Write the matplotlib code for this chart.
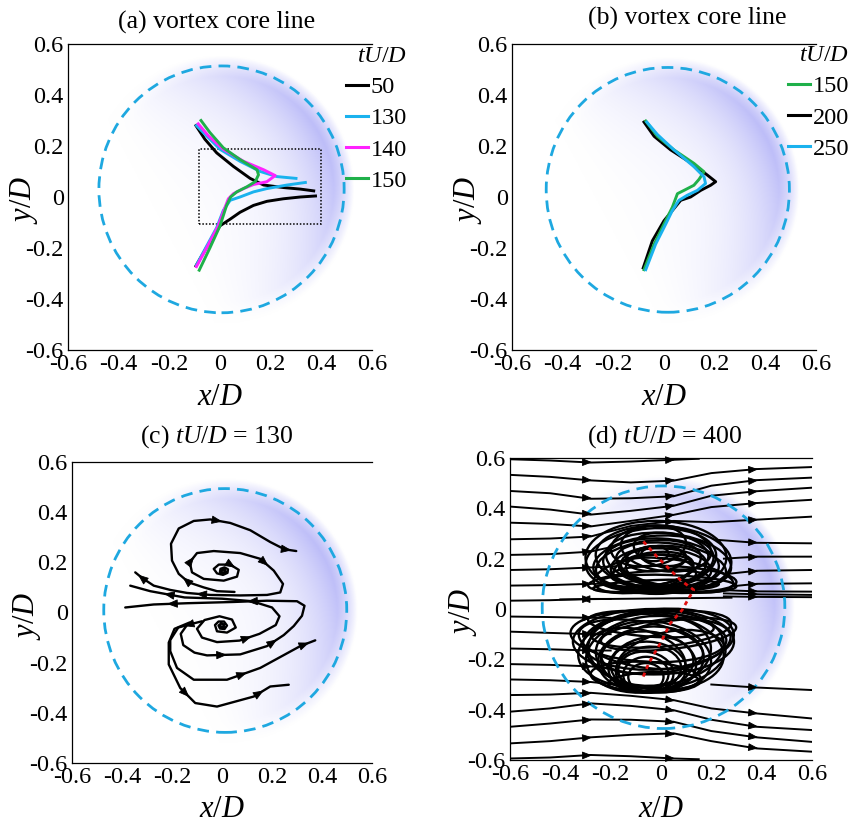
import numpy as np
import matplotlib
matplotlib.use('Agg')
import matplotlib.pyplot as plt
from matplotlib.patches import Circle, Rectangle, Ellipse
from matplotlib.lines import Line2D

plt.rcParams['font.family'] = 'Liberation Serif'
plt.rcParams['mathtext.fontset'] = 'custom'
plt.rcParams['mathtext.rm'] = 'Liberation Serif'
plt.rcParams['mathtext.it'] = 'Liberation Serif:italic'
plt.rcParams['axes.unicode_minus'] = False

# ---- axis ticks ----
ticks = [-0.6, -0.4, -0.2, 0, 0.2, 0.4, 0.6]
tick_labels = ['-0.6', '-0.4', '-0.2', '0', '0.2', '0.4', '0.6']

# ---- (a) vortex core lines, tU/D = 50, 130, 140, 150 ----
a_times = ['50', '130', '140', '150']
a_core_50 = [(-0.095, 0.28), (-0.06, 0.227), (-0.013, 0.173), (0.053, 0.12), (0.119, 0.073),
             (0.172, 0.047), (0.251, 0.037), (0.317, 0.031), (0.37, 0.024), (np.nan, np.nan),
             (0.377, 0.004), (0.317, 0.0), (0.25, -0.007), (0.185, -0.017), (0.132, -0.033),
             (0.079, -0.06), (0.04, -0.087), (0.0, -0.113), (-0.03, -0.16), (-0.06, -0.21),
             (-0.095, -0.27)]
a_core_130 = [(-0.093, 0.28), (-0.053, 0.24), (0.0, 0.187), (0.079, 0.14), (0.159, 0.1),
              (0.225, 0.08), (0.3, 0.073), (np.nan, np.nan),
              (0.337, 0.057), (0.265, 0.047), (0.185, 0.033), (0.132, 0.02), (0.079, 0.0),
              (0.04, -0.013), (0.013, -0.053), (-0.013, -0.12), (-0.053, -0.193), (-0.093, -0.267)]
a_core_140 = [(-0.086, 0.287), (-0.046, 0.24), (0.013, 0.187), (0.093, 0.14), (0.172, 0.107),
              (0.218, 0.084), (0.185, 0.06), (0.132, 0.049), (0.093, 0.033), (0.053, 0.013),
              (0.033, -0.007), (0.02, -0.04), (-0.007, -0.113), (-0.053, -0.2), (-0.093, -0.273)]
a_core_150 = [(-0.075, 0.3), (-0.04, 0.253), (0.013, 0.193), (0.079, 0.147), (0.146, 0.107),
              (0.152, 0.087), (0.139, 0.06), (0.106, 0.04), (0.066, 0.02), (0.042, 0.0),
              (0.026, -0.033), (0.0, -0.113), (-0.04, -0.2), (-0.082, -0.287)]
a_box = (-0.082, -0.107, 0.397, 0.189)   # x0, y0, x1, y1 of the dotted window

# ---- (b) vortex core lines, tU/D = 150, 200, 250 ----
b_times = ['150', '200', '250']
b_core_150 = [(-0.072, 0.298), (-0.026, 0.238), (0.039, 0.185), (0.118, 0.132), (0.158, 0.099),
              (0.138, 0.069), (0.118, 0.046), (0.079, 0.026), (0.053, 0.013), (0.033, -0.04),
              (0.0, -0.106), (-0.039, -0.185), (-0.079, -0.285)]
b_core_200 = [(-0.079, 0.294), (-0.039, 0.238), (0.026, 0.185), (0.118, 0.126), (0.171, 0.086),
              (0.204, 0.06), (0.184, 0.046), (0.145, 0.026), (0.105, 0.0), (0.066, -0.013),
              (0.033, -0.053), (0.0, -0.093), (-0.046, -0.172), (-0.082, -0.278)]
b_core_250 = [(-0.068, 0.294), (-0.026, 0.245), (0.039, 0.185), (0.118, 0.119), (0.158, 0.079),
              (0.164, 0.053), (0.132, 0.026), (0.092, 0.007), (0.059, -0.013), (0.033, -0.053),
              (0.007, -0.106), (-0.033, -0.185), (-0.072, -0.285)]

# ---- (c) streamlines at tU/D = 130 ----
c_outer = [(0.05, 0.082), (-0.02, 0.085), (-0.073, 0.1), (-0.133, 0.12), (-0.173, 0.154),
           (-0.2, 0.207), (-0.204, 0.274), (-0.173, 0.335), (-0.113, 0.365), (-0.047, 0.371),
           (0.033, 0.357), (0.113, 0.328), (0.193, 0.281), (0.25, 0.252), (0.297, 0.245)]
c_upper = [(0.0, 0.168), (0.01, 0.172), (0.014, 0.164), (0.004, 0.158), (-0.008, 0.162),
           (-0.006, 0.174), (0.01, 0.18), (0.024, 0.172), (0.022, 0.158), (0.004, 0.15),
           (-0.02, 0.156), (-0.033, 0.174), (-0.013, 0.191),
           (0.033, 0.191), (0.067, 0.17), (0.06, 0.143), (0.007, 0.127), (-0.073, 0.134),
           (-0.12, 0.16), (-0.129, 0.2), (-0.1, 0.237), (-0.033, 0.245), (0.073, 0.237),
           (0.153, 0.214), (0.207, 0.167), (0.244, 0.114), (0.233, 0.08), (0.18, 0.07),
           (0.073, 0.068), (-0.047, 0.07), (-0.14, 0.078), (-0.207, 0.09), (-0.273, 0.107),
           (-0.32, 0.138), (-0.347, 0.16)]
c_lower = [(-0.005, -0.055), (0.006, -0.058), (0.008, -0.048), (-0.004, -0.044), (-0.014, -0.052),
           (-0.008, -0.064), (0.01, -0.066), (0.02, -0.052), (0.008, -0.036), (-0.014, -0.036),
           (-0.028, -0.05), (-0.02, -0.075),
           (0.02, -0.08), (0.055, -0.06), (0.04, -0.028), (-0.01, -0.015), (-0.07, -0.03),
           (-0.1, -0.065), (-0.08, -0.1), (-0.02, -0.118), (0.07, -0.112), (0.15, -0.085),
           (0.215, -0.05), (0.23, -0.015), (0.2, 0.02), (0.12, 0.045), (0.0, 0.055),
           (-0.15, 0.06), (-0.287, 0.085), (-0.367, 0.107)]
c_loop = [(-0.08, -0.035), (-0.14, -0.05), (-0.165, -0.085), (-0.155, -0.13), (-0.11, -0.16),
          (-0.06, -0.171), (0.073, -0.167), (0.18, -0.134), (0.247, -0.09), (0.287, -0.054),
          (0.32, -0.013), (0.33, 0.027), (0.3, 0.045), (0.18, 0.047), (0.047, 0.042),
          (-0.14, 0.037), (-0.273, 0.032), (-0.387, 0.02)]
c_arc1 = [(-0.12, -0.045), (-0.175, -0.06), (-0.207, -0.11), (-0.207, -0.154), (-0.18, -0.221),
          (-0.113, -0.268), (0.02, -0.268), (0.153, -0.221), (0.313, -0.134), (0.373, -0.111)]
c_arc2 = [(-0.13, -0.04), (-0.19, -0.065), (-0.213, -0.12), (-0.213, -0.207), (-0.167, -0.301),
          (-0.107, -0.361), (-0.02, -0.375), (0.127, -0.335), (0.193, -0.295), (0.267, -0.288)]
c_streams = [c_outer, c_upper, c_lower, c_loop, c_arc1, c_arc2]
# segment index of each arrow head, per streamline
c_arrows = [[3, 9, 13], [13, 19, 23, 29, 33], [20, 27], [5, 7, 13, 15], [0, 6, 8], [4, 7]]

# ---- (d) streamlines at tU/D = 400 ----
d_rows = [
    [(-0.6, 0.595), (-0.44, 0.59), (-0.28, 0.582), (-0.12, 0.586), (0.05, 0.593), (0.15, 0.597)],
    [(-0.6, 0.533), (-0.44, 0.525), (-0.28, 0.511), (-0.12, 0.503), (0.05, 0.51), (0.2, 0.54), (0.38, 0.556), (0.6, 0.564)],
    [(-0.6, 0.469), (-0.44, 0.46), (-0.28, 0.438), (-0.12, 0.44), (0.05, 0.448), (0.2, 0.49), (0.38, 0.512), (0.6, 0.522)],
    [(-0.6, 0.407), (-0.44, 0.395), (-0.28, 0.375), (-0.12, 0.39), (0.05, 0.41), (0.2, 0.45), (0.38, 0.468), (0.6, 0.482)],
    [(-0.6, 0.343), (-0.44, 0.338), (-0.28, 0.328), (-0.12, 0.35), (0.05, 0.374), (0.2, 0.405), (0.38, 0.421), (0.6, 0.434)],
    [(-0.6, 0.277), (-0.44, 0.28), (-0.28, 0.288), (-0.12, 0.33), (0.05, 0.35), (0.2, 0.345), (0.38, 0.355), (0.6, 0.367)],
    [(-0.6, 0.215), (-0.44, 0.218), (-0.28, 0.228), (-0.18, 0.25)],
    [(0.22, 0.275), (0.38, 0.263), (0.6, 0.261)],
    [(-0.6, 0.155), (-0.44, 0.158), (-0.28, 0.165), (-0.18, 0.17)],
    [(0.25, 0.2), (0.38, 0.208), (0.6, 0.208)],
    [(-0.6, 0.093), (-0.44, 0.095), (-0.28, 0.1), (-0.18, 0.1)],
    [(0.27, 0.14), (0.38, 0.152), (0.6, 0.155)],
    [(-0.6, 0.033), (-0.44, 0.035), (-0.28, 0.04), (-0.2, 0.04)],
    [(0.28, 0.09), (0.38, 0.1), (0.6, 0.102)],
    [(-0.6, -0.03), (-0.44, -0.032), (-0.28, -0.035), (-0.2, -0.035)],
    [(0.25, 0.075), (0.38, 0.07), (0.6, 0.069)],
    [(-0.6, -0.09), (-0.44, -0.095), (-0.28, -0.1), (-0.2, -0.1)],
    [(0.25, 0.062), (0.4, 0.058), (0.6, 0.056)],
    [(-0.6, -0.157), (-0.44, -0.16), (-0.28, -0.165), (-0.2, -0.165)],
    [(0.25, 0.05), (0.4, 0.048), (0.6, 0.047)],
    [(-0.6, -0.219), (-0.44, -0.222), (-0.28, -0.228), (-0.2, -0.235)],
    [(-0.6, -0.28), (-0.44, -0.283), (-0.28, -0.29), (-0.18, -0.3)],
    [(0.2, -0.3), (0.38, -0.312), (0.6, -0.322)],
    [(-0.6, -0.342), (-0.44, -0.34), (-0.28, -0.333), (-0.12, -0.345), (0.05, -0.362), (0.2, -0.395), (0.38, -0.415), (0.6, -0.435)],
    [(-0.6, -0.408), (-0.44, -0.395), (-0.28, -0.375), (-0.12, -0.385), (0.05, -0.402), (0.2, -0.44), (0.38, -0.468), (0.6, -0.481)],
    [(-0.6, -0.468), (-0.44, -0.455), (-0.28, -0.439), (-0.12, -0.44), (0.05, -0.448), (0.2, -0.485), (0.38, -0.51), (0.6, -0.528)],
    [(-0.6, -0.534), (-0.44, -0.525), (-0.28, -0.51), (-0.12, -0.5), (0.05, -0.494), (0.2, -0.525), (0.38, -0.554), (0.6, -0.567)],
    [(-0.6, -0.594), (-0.44, -0.59), (-0.28, -0.58), (-0.12, -0.585), (0.05, -0.594), (0.15, -0.597)],
]
d_arrow_x = [-0.28, 0.05, 0.38]
d_back = [(0.28, 0.045), (0.0, 0.042), (-0.2, 0.04), (-0.4, 0.038)]
# closed streamline loops: centre x, centre y, width, height, tilt in degrees
d_loops_upper = [(-0.02, 0.205, 0.56, 0.29, 0), (0.01, 0.2, 0.54, 0.26, -4), (-0.04, 0.195, 0.52, 0.25, 5),
                 (0.03, 0.19, 0.5, 0.22, -7), (-0.03, 0.185, 0.48, 0.21, 6), (0.0, 0.18, 0.46, 0.2, -3),
                 (-0.05, 0.18, 0.42, 0.18, 8), (0.04, 0.175, 0.44, 0.17, -8), (-0.01, 0.17, 0.38, 0.16, 4),
                 (0.02, 0.165, 0.36, 0.15, -5), (-0.03, 0.16, 0.32, 0.13, 7), (0.0, 0.155, 0.28, 0.12, -6),
                 (-0.02, 0.2, 0.24, 0.1, 3), (0.01, 0.21, 0.18, 0.08, -4), (-0.03, 0.22, 0.12, 0.06, 0),
                 (0.05, 0.12, 0.5, 0.1, -3), (-0.05, 0.11, 0.48, 0.08, 4), (0.03, 0.1, 0.54, 0.07, -2),
                 (-0.02, 0.09, 0.5, 0.05, 2), (0.06, 0.135, 0.46, 0.12, -9), (-0.07, 0.14, 0.4, 0.14, 10),
                 (0.02, 0.24, 0.36, 0.18, -6), (-0.05, 0.25, 0.3, 0.16, 7), (0.04, 0.23, 0.3, 0.14, -10)]
d_loops_lower = [(-0.03, -0.13, 0.64, 0.26, 0), (-0.01, -0.12, 0.6, 0.24, 4), (-0.05, -0.11, 0.62, 0.2, -3),
                 (0.0, -0.08, 0.56, 0.14, 5), (-0.04, -0.06, 0.5, 0.1, -4), (-0.04, -0.16, 0.58, 0.3, 6),
                 (-0.02, -0.17, 0.54, 0.3, -5), (-0.05, -0.18, 0.5, 0.3, 8), (-0.03, -0.19, 0.46, 0.28, -7),
                 (-0.04, -0.2, 0.42, 0.26, 4), (-0.05, -0.21, 0.38, 0.24, -6), (-0.04, -0.22, 0.34, 0.22, 9),
                 (-0.05, -0.23, 0.3, 0.2, -4), (-0.05, -0.24, 0.26, 0.18, 6), (-0.06, -0.25, 0.22, 0.16, -8),
                 (-0.06, -0.26, 0.18, 0.14, 3), (-0.06, -0.27, 0.14, 0.11, 0), (0.02, -0.15, 0.52, 0.2, 10),
                 (-0.08, -0.14, 0.5, 0.18, -10), (0.03, -0.1, 0.54, 0.12, 6), (-0.06, -0.27, 0.44, 0.12, -3),
                 (-0.03, -0.29, 0.36, 0.08, 2), (0.04, -0.2, 0.44, 0.22, 12), (-0.1, -0.19, 0.4, 0.22, -12)]
d_core = [(-0.07, 0.268), (-0.016, 0.208), (0.077, 0.115), (0.13, 0.076), (0.103, 0.03),
          (0.084, -0.004), (0.037, -0.057), (-0.003, -0.137), (-0.049, -0.216), (-0.076, -0.282)]

# sphere outline per panel: centre x, centre y, radius
spheres = [(0.006, 0.03, 0.484), (0.015, 0.028, 0.48), (0.013, 0.008, 0.486), (0.01, 0.007, 0.482)]

W, H = 860, 825
fig = plt.figure(figsize=(W / 100, H / 100), dpi=100)


def axes_px(l, t, r, b):
    return fig.add_axes([l / W, 1 - b / H, (r - l) / W, (b - t) / H])


def frame(ax, ylab_x, xlab_y):
    ax.set_xlim(-0.6, 0.6)
    ax.set_ylim(-0.6, 0.6)
    ax.set_xticks(ticks)
    ax.set_xticklabels(tick_labels)
    ax.set_yticks(ticks)
    ax.set_yticklabels(tick_labels)
    ax.tick_params(length=0, labelsize=17.5, pad=3)
    ax.spines['right'].set_visible(False)
    for s in ('left', 'top', 'bottom'):
        ax.spines[s].set_linewidth(0.9)
    ax.set_xlabel('$x/D$', fontsize=22)
    ax.set_ylabel('$y/D$', fontsize=22)
    ax.xaxis.set_label_coords(0.5, xlab_y)
    ax.yaxis.set_label_coords(ylab_x, 0.49)


def sphere(ax, cx, cy, r):
    g = np.linspace(-0.6, 0.6, 500)
    X, Y = np.meshgrid(g, g)
    a = np.deg2rad(28)
    t = ((X - cx) * np.cos(a) + (Y - cy) * np.sin(a)) / r
    s = np.clip(np.hypot(X - cx, Y - cy) / r, 0, 1.1)
    k = np.clip((t + 0.55) / 1.5, 0, 1) ** 1.5 * (0.3 + 0.7 * s ** 2)
    rr = np.hypot(X - cx, Y - cy)
    edge = np.clip((r + 0.04 - rr) / 0.08, 0, 1)
    k = np.clip(k * edge, 0, 1)[..., None]
    lav = np.array([0.70, 0.70, 0.97])
    img = 1 - k * (1 - lav)
    ax.imshow(img, extent=(-0.6, 0.6, -0.6, 0.6), origin='lower', zorder=0,
              interpolation='bilinear', aspect='auto')
    ax.add_patch(Circle((cx, cy), r, fill=False, ec='#1ea8e0', lw=2.0,
                        ls=(0, (4.2, 2.6)), zorder=5))


def line(ax, pts, **kw):
    p = np.array(pts, dtype=float)
    ax.plot(p[:, 0], p[:, 1], **kw)


def head(ax, p0, p1, size=11):
    p0 = np.asarray(p0, float)
    p1 = np.asarray(p1, float)
    tip = p0 + 0.6 * (p1 - p0)
    tail = p0 + 0.2 * (p1 - p0)
    ax.annotate('', xy=tip, xytext=tail,
                arrowprops=dict(arrowstyle='-|>,head_length=0.55,head_width=0.22',
                                color='k', lw=0.6, shrinkA=0, shrinkB=0,
                                mutation_scale=size), zorder=6)


def legend(ax, colors, labels, x, y):
    hs = [Line2D([], [], color=c, lw=2.2) for c in colors]
    leg = ax.legend(hs, labels, loc='upper left', bbox_to_anchor=(x / W, 1 - y / H),
                    bbox_transform=fig.transFigure, frameon=False, fontsize=17.5,
                    handlelength=0.92, handletextpad=0.1, labelspacing=0.38,
                    borderpad=0, borderaxespad=0, title='$tU/D$', title_fontsize=17.5)
    leg._legend_box.align = 'right'


# ---------------- (a) ----------------
ax = axes_px(68, 44, 372, 350)
frame(ax, -0.092, -0.108)
sphere(ax, *spheres[0])
ax.add_patch(Rectangle((a_box[0], a_box[1]), a_box[2] - a_box[0], a_box[3] - a_box[1],
                       fill=False, ec='k', lw=1.1, ls=(0, (1, 1.2)), zorder=3))
a_colors = ['black', '#1ab2ee', '#ff22ff', '#1fb04a']
for pts, col in zip([a_core_50, a_core_130, a_core_140, a_core_150], a_colors):
    line(ax, pts, color=col, lw=2.1, zorder=4)
legend(ax, a_colors, a_times, 346, 46)
fig.text(217 / W, 1 - 22 / H, '(a) vortex core line', ha='center', va='center', fontsize=18.5)

# ---------------- (b) ----------------
ax = axes_px(512, 44, 816, 350)
frame(ax, -0.092, -0.108)
sphere(ax, *spheres[1])
b_colors = ['#1fb04a', 'black', '#1ab2ee']
for pts, col in zip([b_core_200, b_core_150, b_core_250], ['black', '#1fb04a', '#1ab2ee']):
    line(ax, pts, color=col, lw=2.1, zorder=4)
legend(ax, b_colors, b_times, 788, 45)
fig.text(687 / W, 1 - 18 / H, '(b) vortex core line', ha='center', va='center', fontsize=18.5)

# ---------------- (c) ----------------
ax = axes_px(72, 462, 372, 763)
frame(ax, -0.097, -0.107)
sphere(ax, *spheres[2])
for pts, arr in zip(c_streams, c_arrows):
    line(ax, pts, color='k', lw=1.7, zorder=4, solid_capstyle='round')
    for i in arr:
        head(ax, pts[i], pts[i + 1], size=12)
fig.text(217 / W, 1 - 437 / H, '(c) $tU/D$ = 130', ha='center', va='center', fontsize=18.5)

# ---------------- (d) ----------------
ax = axes_px(510, 458, 812, 760)
frame(ax, -0.103, -0.116)
sphere(ax, *spheres[3])
for cx, cy, w, h, ang in d_loops_upper + d_loops_lower:
    ax.add_patch(Ellipse((cx, cy), w, h, angle=ang, fill=False, ec='k', lw=1.7, zorder=4))
for pts in d_rows:
    p = np.array(pts)
    line(ax, pts, color='k', lw=1.4, zorder=4)
    for xa in d_arrow_x:
        if p[0, 0] < xa - 0.02 and p[-1, 0] > xa + 0.02:
            ya0 = np.interp(xa - 0.03, p[:, 0], p[:, 1])
            ya1 = np.interp(xa + 0.03, p[:, 0], p[:, 1])
            head(ax, (xa - 0.03, ya0), (xa + 0.03, ya1), size=11)
line(ax, d_back, color='k', lw=1.4, zorder=4)
head(ax, d_back[-2], d_back[-1], size=11)
line(ax, d_core, color='#e01010', lw=2.0, ls=(0, (1.5, 1.5)), zorder=7)
fig.text(665 / W, 1 - 437 / H, '(d) $tU/D$ = 400', ha='center', va='center', fontsize=18.5)

fig.savefig('out.png', dpi=100)
